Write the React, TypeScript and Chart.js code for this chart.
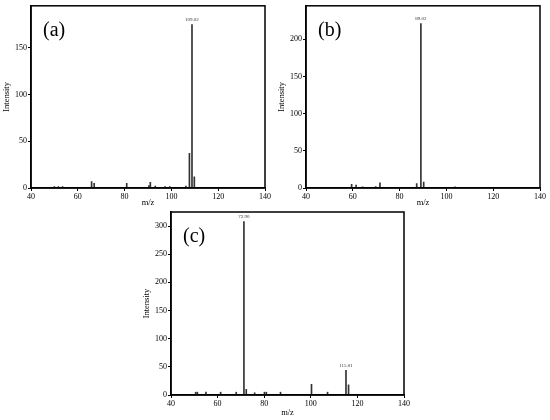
import React, { useEffect, useRef } from "react";
import { Chart, registerables } from "chart.js";

Chart.register(...registerables);

// ---- data ----
const mzA = [50.0, 51.7, 53.5, 65.9, 67.0, 80.9, 90.4, 91.0, 93.1, 97.3, 99.3, 106.2, 107.7, 108.8, 109.8];
const intA = [1.5, 1.5, 1.5, 7, 5, 5, 2.5, 6, 2, 1.5, 1.5, 2, 37, 175, 12];
const peaksA = [{ i: 13, text: "109.02" }];

const mzB = [59.5, 61.4, 64.2, 69.8, 71.6, 87.3, 89.1, 90.3, 103.7];
const intB = [5, 4, 1.5, 2, 7, 6, 221, 8, 1.5];
const peaksB = [{ i: 6, text: "89.02" }];

const mzC = [50.6, 51.3, 55.0, 61.3, 68.0, 71.3, 72.3, 75.9, 80.1, 80.9, 87.0, 100.3, 107.2, 115.1, 116.2];
const intC = [5, 5, 5, 5, 5, 308, 10, 4, 5, 5, 5, 19, 5, 44, 18];
const peaksC = [{ i: 5, text: "72.90" }, { i: 13, text: "115.01" }];

const xMin = 40;
const xMax = 140;
const xStep = 20;
const yStep = 50;

const FONT = "'Liberation Serif', 'Times New Roman', serif";

type Peak = { i: number; text: string };

function makeChart(
  canvas: HTMLCanvasElement,
  mz: number[],
  inten: number[],
  yMax: number,
  letter: string,
  peaks: Peak[],
  pad: { top: number; right: number; left: number },
  xH: number
) {
  const overlay = {
    id: "overlay",
    afterDraw(chart: any) {
      const { ctx, chartArea } = chart;
      const xs = chart.scales.x;
      const ys = chart.scales.y;
      ctx.save();
      ctx.strokeStyle = "#000";
      ctx.lineWidth = 1.5;
      ctx.strokeRect(
        chartArea.left,
        chartArea.top,
        chartArea.right - chartArea.left,
        chartArea.bottom - chartArea.top
      );
      ctx.fillStyle = "#000";
      ctx.font = `20px ${FONT}`;
      ctx.textAlign = "left";
      ctx.textBaseline = "middle";
      ctx.fillText(letter, chartArea.left + 12, chartArea.top + 25);
      ctx.font = `5px ${FONT}`;
      ctx.textAlign = "center";
      ctx.textBaseline = "bottom";
      ctx.fillStyle = "#333";
      peaks.forEach((p) => {
        const px = xs.getPixelForValue(mz[p.i]);
        const py = ys.getPixelForValue(inten[p.i]);
        ctx.fillText(p.text, px, py - 2);
      });
      ctx.restore();
    },
  };

  const tickFont = { family: FONT, size: 8 };
  const titleFont = { family: FONT, size: 8.5 };

  return new Chart(canvas, {
    type: "bar",
    data: {
      datasets: [
        {
          data: mz.map((x, i) => ({ x, y: inten[i] })),
          backgroundColor: "#333",
          borderWidth: 0,
          barThickness: 1,
        },
      ],
    },
    options: {
      animation: false,
      responsive: false,
      maintainAspectRatio: false,
      layout: { padding: { top: pad.top, right: pad.right, left: pad.left, bottom: 0 } },
      plugins: { legend: { display: false }, tooltip: { enabled: false } },
      scales: {
        x: {
          type: "linear",
          offset: false,
          min: xMin,
          max: xMax,
          ticks: { stepSize: xStep, font: tickFont, color: "#000", padding: 1, maxRotation: 0 },
          grid: { display: true, offset: false, drawOnChartArea: false, drawTicks: true, tickLength: 3, color: "#000", lineWidth: 1 },
          border: { color: "#000", width: 1.5 },
          title: { display: true, text: "m/z", font: titleFont, color: "#000", padding: { top: 0, bottom: 2 } },
          afterFit: (s: any) => {
            s.height = xH;
          },
        },
        y: {
          type: "linear",
          min: 0,
          max: yMax,
          ticks: { stepSize: yStep, font: tickFont, color: "#000", padding: 1 },
          afterBuildTicks: (s: any) => {
            s.ticks = s.ticks.filter((t: any) => t.value % yStep === 0);
          },
          grid: { display: true, drawOnChartArea: false, drawTicks: true, tickLength: 3, color: "#000", lineWidth: 1 },
          border: { color: "#000", width: 1.5 },
          title: { display: true, text: "Intensity", font: titleFont, color: "#000", padding: { top: 2, bottom: 0 } },
          afterFit: (s: any) => {
            s.width = 31;
          },
        },
      },
    },
    plugins: [overlay],
  } as any);
}

export default function App() {
  const refA = useRef<HTMLCanvasElement>(null);
  const refB = useRef<HTMLCanvasElement>(null);
  const refC = useRef<HTMLCanvasElement>(null);

  useEffect(() => {
    const charts = [
      makeChart(refA.current!, mzA, intA, 195, "(a)", peaksA, { top: 5, right: 10, left: 0 }, 22),
      makeChart(refB.current!, mzB, intB, 245, "(b)", peaksB, { top: 5, right: 10, left: 0 }, 22),
      makeChart(refC.current!, mzC, intC, 325, "(c)", peaksC, { top: 7, right: 16, left: 10 }, 25),
    ];
    return () => charts.forEach((c) => c.destroy());
  }, []);

  return (
    <div style={{ position: "absolute", left: 0, top: 0, width: 550, height: 420, background: "#fff" }}>
      <canvas ref={refA} width={275} height={210} style={{ position: "absolute", left: 0, top: 0 }} />
      <canvas ref={refB} width={275} height={210} style={{ position: "absolute", left: 275, top: 0 }} />
      <canvas ref={refC} width={290} height={215} style={{ position: "absolute", left: 130, top: 205 }} />
    </div>
  );
}
